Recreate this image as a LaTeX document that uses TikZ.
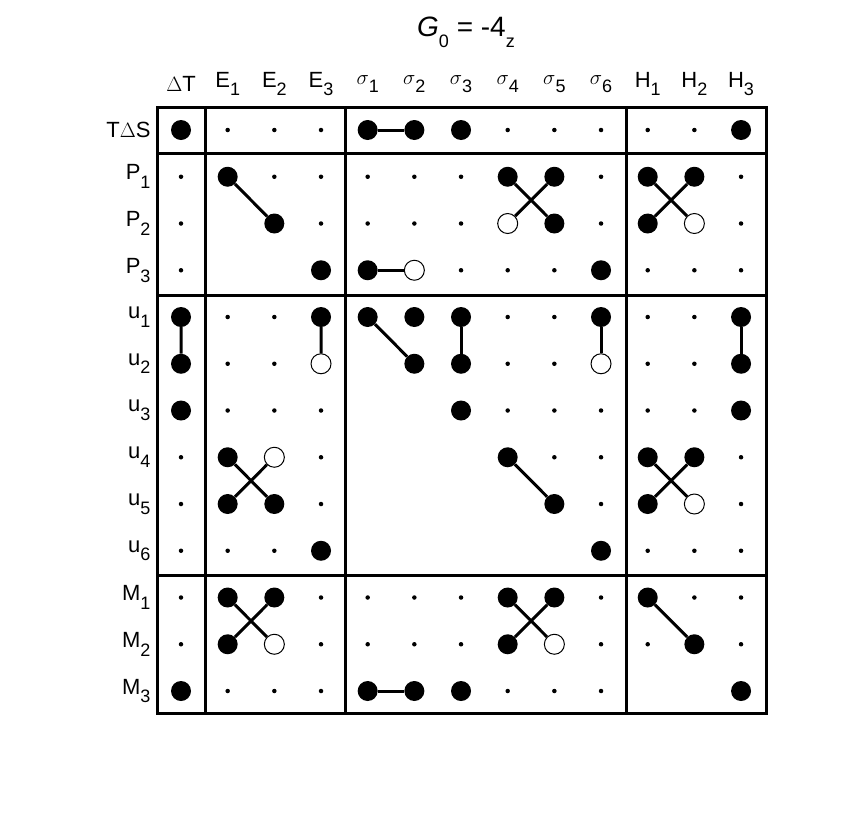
\documentclass[tikz,border=0pt]{standalone}
\usepackage{fontspec}
\setmainfont{Liberation Sans}
\usetikzlibrary{positioning}
\newcommand{\lowix}[1]{\raisebox{-0.75ex}{\fontsize{18}{20}\selectfont #1}}
\begin{document}
\begin{tikzpicture}[x=1pt,y=-1pt,
dotB/.style={circle,fill=black,inner sep=0pt,minimum size=20pt},
dotO/.style={circle,draw=black,fill=white,line width=1pt,inner sep=0pt,minimum size=20pt},
dots/.style={circle,fill=black,inner sep=0pt,minimum size=4.5pt},
dotN/.style={inner sep=0pt,minimum size=20pt},
link/.style={line width=3pt},
frame/.style={line width=3pt},
lab/.style={font=\fontsize{22}{26}\selectfont}]
\useasboundingbox (0,0) rectangle (856,812);

\node[font=\fontsize{28}{32}\selectfont] (title) at (466,32) {\textit{G}\lowix{0} = -4\lowix{z}};

% cells: B filled, O open, s small dot, N empty
\foreach \row [count=\r] in {
{B,s,s,s,B,B,B,s,s,s,s,s,B},
{s,B,s,s,s,s,s,B,B,s,B,B,s},
{s,N,B,s,s,s,s,O,B,s,B,O,s},
{s,N,N,B,B,O,s,s,s,B,s,s,s},
{B,s,s,B,B,B,B,s,s,B,s,s,B},
{B,s,s,O,N,B,B,s,s,O,s,s,B},
{B,s,s,s,N,N,B,s,s,s,s,s,B},
{s,B,O,s,N,N,N,B,s,s,B,B,s},
{s,B,B,s,N,N,N,N,B,s,B,O,s},
{s,s,s,B,N,N,N,N,N,B,s,s,s},
{s,B,B,s,s,s,s,B,B,s,B,s,s},
{s,B,O,s,s,s,s,B,O,s,s,B,s},
{B,s,s,s,B,B,B,s,s,s,N,N,B}}
  \foreach \k [count=\c] in \row
    \node[dot\k] (n\r-\c) at ({181+(\c-1)*46.67},{130+(\r-1)*46.75}) {};

% column labels
\foreach \t [count=\c] in {$\Delta$T,E\lowix{1},E\lowix{2},E\lowix{3},
  $\sigma$\lowix{1},$\sigma$\lowix{2},$\sigma$\lowix{3},$\sigma$\lowix{4},$\sigma$\lowix{5},$\sigma$\lowix{6},
  H\lowix{1},H\lowix{2},H\lowix{3}}
  \node[lab] (col\c) at ({181+(\c-1)*46.67},84) {\t};
% row labels
\foreach \t [count=\r] in {T$\Delta$S,P\lowix{1},P\lowix{2},P\lowix{3},
  u\lowix{1},u\lowix{2},u\lowix{3},u\lowix{4},u\lowix{5},u\lowix{6},
  M\lowix{1},M\lowix{2},M\lowix{3}}
  \node[lab,anchor=east] (row\r) at (154,{130+(\r-1)*46.75}) {\t};

% frame
\draw[frame] (157,107) rectangle (766,713);
\draw[frame] (205,107) -- (205,713) (345,107) -- (345,713) (626,107) -- (626,713);
\draw[frame] (157,153) -- (766,153) (157,295) -- (766,295) (157,575) -- (766,575);

% links
\draw[link] (n1-5) -- (n1-6);
\draw[link] (n2-2) -- (n3-3);
\draw[link] (n2-8) -- (n3-9) (n2-9) -- (n3-8);
\draw[link] (n2-11) -- (n3-12) (n2-12) -- (n3-11);
\draw[link] (n4-5) -- (n4-6);
\draw[link] (n5-1) -- (n6-1) (n5-4) -- (n6-4) (n5-5) -- (n6-6);
\draw[link] (n5-7) -- (n6-7) (n5-10) -- (n6-10) (n5-13) -- (n6-13);
\draw[link] (n8-2) -- (n9-3) (n8-3) -- (n9-2);
\draw[link] (n8-8) -- (n9-9);
\draw[link] (n8-11) -- (n9-12) (n8-12) -- (n9-11);
\draw[link] (n11-2) -- (n12-3) (n11-3) -- (n12-2);
\draw[link] (n11-8) -- (n12-9) (n11-9) -- (n12-8);
\draw[link] (n11-11) -- (n12-12);
\draw[link] (n13-5) -- (n13-6);
\end{tikzpicture}
\end{document}
